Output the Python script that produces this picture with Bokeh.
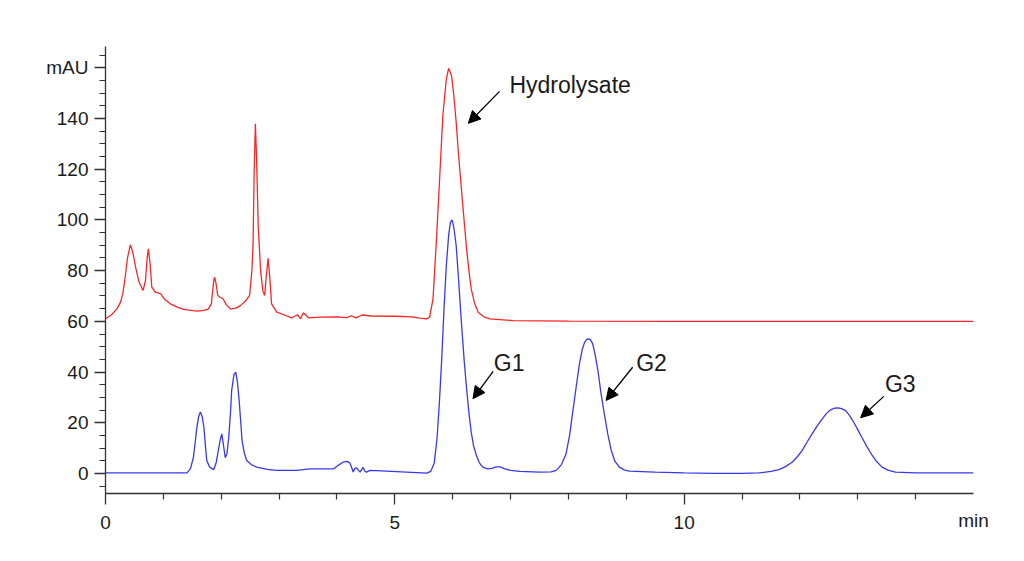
from bokeh.plotting import figure
from bokeh.models import (Range1d, FixedTicker, Label, Arrow, NormalHead)
from bokeh.embed import file_html
from bokeh.resources import INLINE

# ---------------- data ----------------
hydrolysate_t = [0.00, 0.10, 0.20, 0.26, 0.30, 0.34, 0.38, 0.43, 0.47, 0.52, 0.58, 0.65,
                 0.69, 0.72, 0.74, 0.77, 0.80, 0.86, 0.95, 1.03, 1.12, 1.25, 1.35, 1.58,
                 1.70, 1.78, 1.83, 1.87, 1.885, 1.91, 1.94, 1.98, 2.03, 2.09, 2.16, 2.25,
                 2.33, 2.42, 2.49, 2.53, 2.55, 2.57, 2.59, 2.61, 2.64, 2.68, 2.72, 2.75,
                 2.78, 2.81, 2.84, 2.87, 2.96, 3.07, 3.22, 3.32, 3.37, 3.42, 3.51, 3.71,
                 4.00, 4.17, 4.25, 4.33, 4.43, 4.60, 5.00, 5.30, 5.43, 5.55, 5.60, 5.66,
                 5.72, 5.78, 5.83, 5.89, 5.93, 5.98, 6.02, 6.06, 6.10, 6.15, 6.20, 6.24,
                 6.28, 6.32, 6.38, 6.44, 6.54, 6.64, 7.04, 8.00, 10.00, 12.00, 15.00]
hydrolysate_mau = [61.0, 62.5, 65.0, 67.6, 71.0, 77.4, 85.0, 90.2, 87.5, 81.4, 75.5, 72.2,
                   76.0, 85.0, 88.6, 83.0, 73.5, 71.5, 70.9, 68.5, 66.9, 65.5, 64.7, 64.0,
                   64.3, 64.9, 67.0, 76.0, 77.4, 75.0, 70.2, 69.5, 68.9, 66.5, 64.9, 65.2,
                   66.2, 68.0, 70.2, 80.0, 90.6, 120.0, 137.9, 125.0, 97.1, 80.0, 72.0, 70.2,
                   78.0, 84.9, 77.0, 66.9, 63.6, 62.7, 61.4, 62.6, 61.0, 63.4, 61.4, 61.7,
                   61.8, 61.5, 62.2, 61.4, 62.5, 62.1, 62.0, 61.8, 61.3, 61.0, 61.6, 68.9,
                   92.5, 118.8, 141.2, 155.6, 159.8, 156.9, 149.0, 138.5, 126.0, 112.3, 99.0, 88.6,
                   80.0, 72.8, 67.0, 63.6, 61.8, 61.0, 60.3, 60.1, 60.0, 60.0, 60.0]

standards_t = [0.00, 1.00, 1.41, 1.47, 1.52, 1.58, 1.61, 1.64, 1.67, 1.70, 1.73, 1.75,
               1.80, 1.87, 1.91, 1.95, 1.98, 2.01, 2.04, 2.07, 2.10, 2.13, 2.16, 2.18,
               2.22, 2.25, 2.28, 2.31, 2.36, 2.40, 2.44, 2.52, 2.61, 2.80, 2.96, 3.30,
               3.53, 3.94, 4.02, 4.11, 4.17, 4.22, 4.26, 4.28, 4.31, 4.34, 4.37, 4.40,
               4.45, 4.48, 4.51, 4.57, 4.86, 5.20, 5.55, 5.62, 5.68, 5.73, 5.77, 5.81,
               5.85, 5.89, 5.93, 5.96, 5.99, 6.02, 6.06, 6.10, 6.15, 6.20, 6.24, 6.28,
               6.32, 6.36, 6.41, 6.46, 6.52, 6.60, 6.68, 6.75, 6.82, 6.90, 7.00, 7.16,
               7.50, 7.70, 7.79, 7.88, 7.96, 8.02, 8.07, 8.13, 8.19, 8.24, 8.28, 8.32,
               8.35, 8.38, 8.42, 8.46, 8.51, 8.56, 8.62, 8.68, 8.74, 8.80, 8.88, 8.96,
               9.05, 9.50, 10.00, 10.50, 11.00, 11.29, 11.50, 11.64, 11.76, 11.87, 11.96, 12.04,
               12.12, 12.21, 12.30, 12.39, 12.46, 12.53, 12.60, 12.66, 12.72, 12.79, 12.86, 12.93,
               13.00, 13.07, 13.16, 13.25, 13.33, 13.42, 13.52, 13.65, 14.00, 15.00]
standards_mau = [0.2, 0.2, 0.2, 2.0, 6.4, 18.3, 22.5, 24.2, 22.5, 18.3, 10.0, 5.1,
                 2.5, 1.5, 4.0, 9.1, 13.0, 15.6, 11.0, 6.2, 8.0, 14.3, 24.0, 32.7,
                 39.0, 40.0, 36.0, 28.8, 13.0, 8.0, 5.1, 3.5, 2.5, 1.6, 1.2, 1.2,
                 1.8, 1.8, 3.2, 4.5, 4.8, 4.3, 2.0, 0.6, 2.0, 2.2, 1.3, 0.5,
                 2.4, 1.0, 0.5, 1.2, 0.9, 0.5, 0.1, 0.8, 4.0, 14.0, 28.0, 45.0,
                 65.0, 82.0, 94.0, 99.0, 100.0, 97.0, 89.9, 77.0, 59.7, 44.0, 33.4, 24.0,
                 16.3, 11.0, 7.1, 4.2, 2.5, 1.8, 2.0, 2.6, 2.6, 1.8, 1.2, 0.8,
                 0.5, 0.6, 1.2, 3.5, 7.8, 15.0, 23.5, 33.5, 43.2, 49.0, 51.8, 53.0,
                 53.1, 52.8, 51.1, 47.0, 40.6, 32.0, 23.5, 15.5, 9.1, 5.0, 2.5, 1.4,
                 0.9, 0.5, 0.2, 0.0, 0.0, 0.2, 0.8, 1.5, 2.8, 4.5, 6.7, 9.1,
                 12.2, 15.6, 18.8, 21.6, 23.7, 25.1, 25.8, 25.9, 25.6, 24.8, 22.8, 20.2,
                 17.3, 14.3, 10.5, 7.1, 4.6, 2.5, 1.3, 0.5, 0.2, 0.2]

y_major_ticks = [0, 20, 40, 60, 80, 100, 120, 140, 160]
y_tick_labels = {160: "mAU"}
x_major_ticks = [0, 5, 10]
x_minor_ticks = [1, 2, 3, 4, 6, 7, 8, 9, 11, 12, 13, 14]
y_minor_ticks = [v for v in range(-5, 170, 5) if v % 20 != 0]
x_unit = "min"

peak_labels = ["Hydrolysate", "G1", "G2", "G3"]
label_t = [6.98, 6.71, 9.17, 13.47]
label_mau = [153.2, 43.6, 43.6, 35.1]
arrow_tail_t = [6.81, 6.70, 9.11, 13.45]
arrow_tail_mau = [150.7, 40.3, 41.9, 30.4]
arrow_tip_t = [6.27, 6.35, 8.65, 13.05]
arrow_tip_mau = [138.1, 29.5, 28.8, 22.0]

FONT = "Liberation Sans"
TXT = "#1a1a1a"

p = figure(width=1008, height=545, output_backend="svg", toolbar_location=None,
           x_range=Range1d(0, 15), y_range=Range1d(-7.9, 168.4),
           min_border_left=105, min_border_right=35, min_border_top=46, min_border_bottom=52)
p.outline_line_color = None
p.xgrid.visible = False
p.ygrid.visible = False
p.background_fill_color = "white"
p.border_fill_color = "white"

p.line(hydrolysate_t, hydrolysate_mau, line_color="#FF2424", line_width=1.3)
p.line(standards_t, standards_mau, line_color="#3838F2", line_width=1.3)

for ax in (p.xaxis[0], p.yaxis[0]):
    ax.axis_line_color = "#333333"
    ax.axis_line_width = 1.3
    ax.major_tick_line_color = "#333333"
    ax.minor_tick_line_color = "#333333"
    ax.major_tick_line_width = 1.3
    ax.minor_tick_line_width = 1.2
    ax.major_tick_in = 0
    ax.minor_tick_in = 0
    ax.major_tick_out = 11
    ax.minor_tick_out = 6
    ax.major_label_text_font = FONT
    ax.major_label_text_font_size = "19px"
    ax.major_label_text_color = TXT

xa = p.xaxis[0]
xa.ticker = FixedTicker(ticks=x_major_ticks, minor_ticks=x_minor_ticks)
p.yaxis[0].ticker = FixedTicker(ticks=y_major_ticks, minor_ticks=y_minor_ticks)
p.yaxis[0].major_label_overrides = y_tick_labels
xa.major_label_standoff = 11
p.yaxis[0].major_label_standoff = 6

# unit label at the right end of the time axis
xa.axis_label = x_unit
xa.axis_label_text_font = FONT
xa.axis_label_text_font_size = "19px"
xa.axis_label_text_font_style = "normal"
xa.axis_label_text_color = TXT
xa.axis_label_standoff = -22
if "axis_label_align" in xa.properties():
    xa.axis_label_align = "end"
xa.axis_label_text_align = "right"

for name, lt, lm, at, am, bt, bm in zip(peak_labels, label_t, label_mau,
                                          arrow_tail_t, arrow_tail_mau, arrow_tip_t, arrow_tip_mau):
    p.add_layout(Arrow(x_start=at, y_start=am, x_end=bt, y_end=bm,
                       line_color="black", line_width=1.3,
                       end=NormalHead(size=12, fill_color="black", line_color="black", line_width=1)))
    p.add_layout(Label(x=lt, y=lm, text=name, text_align="left", text_baseline="middle",
                       text_font=FONT, text_font_size="23px", text_color=TXT))

open("out.html", "w").write(file_html(p, INLINE))
